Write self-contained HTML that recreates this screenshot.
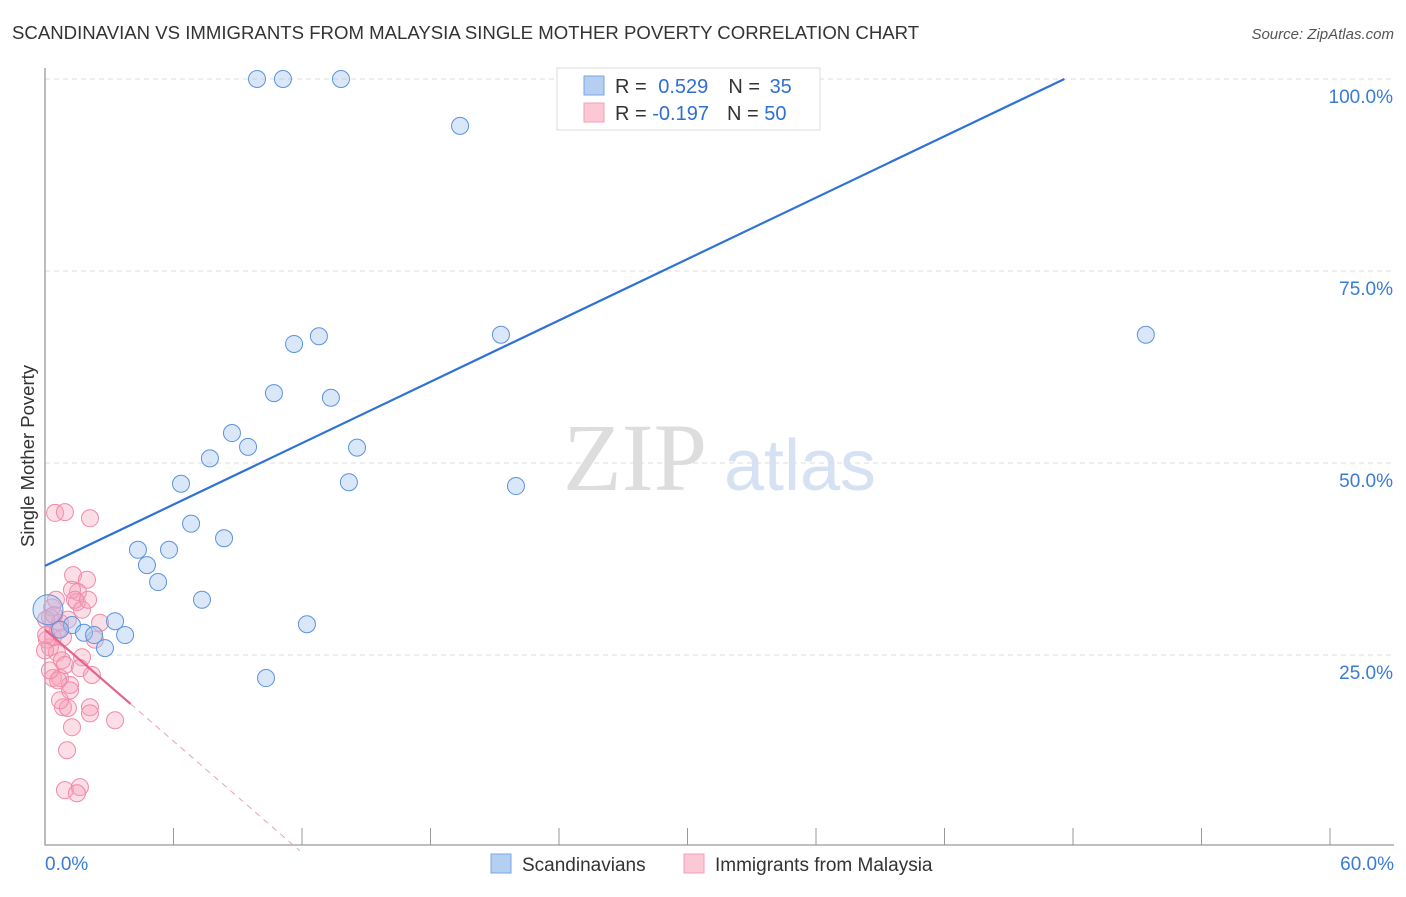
<!DOCTYPE html>
<html><head><meta charset="utf-8"><style>
body{margin:0;background:#fff;font-family:"Liberation Sans",sans-serif}
svg text{font-family:"Liberation Sans",sans-serif}
</style></head><body>
<svg width="1406" height="892" id="c">
<text x="12" y="39" font-size="18.6" fill="#333">SCANDINAVIAN VS IMMIGRANTS FROM MALAYSIA SINGLE MOTHER POVERTY CORRELATION CHART</text>
<text x="1394" y="39" font-size="15" fill="#555" font-style="italic" text-anchor="end">Source: ZipAtlas.com</text>
<text x="0" y="0" transform="translate(34,456) rotate(-90)" font-size="18.5" fill="#333" text-anchor="middle">Single Mother Poverty</text>
<g><text x="635" y="490" font-size="96" fill="#ddd" font-family="Liberation Serif" text-anchor="middle" style="font-family:'Liberation Serif',serif">ZIP</text><text x="800" y="490" font-size="72" fill="#d6e2f3" text-anchor="middle">atlas</text></g>
<g id="grid"></g><g id="marks"></g>
<g>
<rect x="557" y="68" width="263" height="62" fill="#fff" stroke="#ddd"/>
<rect x="584" y="76" width="20" height="19" fill="#b5cff3" stroke="#7aa6e3"/>
<rect x="584" y="103" width="20" height="19" fill="#fcc8d6" stroke="#f0a0b8"/>
<text x="615" y="93" font-size="20" fill="#333">R = <tspan fill="#2f6fd0" dx="6">0.529</tspan><tspan dx="20" fill="#333">N = </tspan><tspan fill="#2f6fd0" dx="4">35</tspan></text>
<text x="615" y="120" font-size="20" fill="#333">R = <tspan fill="#2f6fd0">-0.197</tspan><tspan dx="18" fill="#333">N = </tspan><tspan fill="#2f6fd0">50</tspan></text>
</g>
<g>
<rect x="491" y="854" width="20" height="19" fill="#b5cff3" stroke="#7aa6e3"/>
<text x="522" y="871" font-size="19" fill="#333">Scandinavians</text>
<rect x="684" y="854" width="20" height="19" fill="#fcc8d6" stroke="#f0a0b8"/>
<text x="715" y="871" font-size="19" fill="#333">Immigrants from Malaysia</text>
</g>
</svg>
<script>
const yTicks=[25,50,75,100];
const yTickLabels=["25.0%","50.0%","75.0%","100.0%"];
const xTicks=[0,6,12,18,24,30,36,42,48,54,60];
const xEndLabels=["0.0%","60.0%"];
const blueX=[9.90,11.11,13.82,25.82,19.38,11.63,12.79,21.29,51.40,10.69,13.35,8.73,9.48,14.57,7.70,6.35,14.19,21.99,6.82,8.36,4.34,5.79,4.76,5.28,7.33,12.23,3.27,1.26,1.82,2.29,3.74,2.80,10.32,0.14,0.70];
const blueY=[100,100,100,99.9,93.9,65.5,66.5,66.7,66.7,59.1,58.5,53.9,52.1,52.0,50.6,47.3,47.5,47.0,42.1,40.2,38.7,38.7,36.7,34.5,32.2,29.0,29.4,28.9,27.9,27.6,27.6,25.9,22.0,30.9,28.3];
const pinkX=[0.47,0.93,2.10,1.31,1.96,1.54,1.49,0.33,0.23,2.57,0.70,0.37,0.84,0.23,0.56,1.73,1.63,2.19,0.37,0.70,1.17,0.84,1.07,2.10,2.10,1.26,3.27,1.03,0.93,1.63,1.49,0.05,0.09,0.61,0.79,1.26,1.17,0.61,1.40,0.0,0.93,1.73,2.33,0.51,1.07,0.23,0.70,0.05,0.42,2.01];
const pinkY=[43.5,43.6,42.8,35.4,34.8,33.2,31.9,31.2,29.9,29.2,29.2,27.3,27.3,26.0,25.3,24.7,23.3,22.4,22.0,22.0,21.1,18.2,18.1,18.2,17.4,15.6,16.5,12.6,7.4,7.8,7.0,29.6,27.0,28.3,24.3,33.5,20.4,21.7,32.2,25.6,23.7,30.9,27.0,32.2,29.6,23.0,19.1,27.6,30.2,32.2];
const blueFit=[36.6,1.332], pinkFit=[28.3,-2.42];
const X=v=>45+v/60*1285, Y=v=>847-v/100*768;
const NS="http://www.w3.org/2000/svg";
function mk(p,t,a){const e=document.createElementNS(NS,t);for(const k in a)e.setAttribute(k,a[k]);p.appendChild(e);return e;}
const g=document.getElementById('grid'),m=document.getElementById('marks');
yTicks.forEach((v,i)=>{
 const l=mk(g,'line',{x1:45,x2:1394,y1:Y(v),y2:Y(v),stroke:'#ddd','stroke-dasharray':'5,4'});
 
 
 const t=mk(g,'text',{x:1393,y:Y(v)+24,'font-size':19,fill:'#3a7bd5','text-anchor':'end'});t.textContent=yTickLabels[i];
 
 
});
const ax=mk(g,'path',{d:'M45,68V845H1394',stroke:'#999',fill:'none','stroke-width':1.3});


xTicks.forEach(v=>{const t=mk(g,'line',{x1:X(v),x2:X(v),y1:828,y2:845,stroke:'#999'});
 
 });
[[0,45,'start'],[60,1394,'end']].forEach((d,i)=>{const t=mk(g,'text',{x:d[1],y:870,'font-size':19,fill:'#3a7bd5','text-anchor':d[2]});t.textContent=xEndLabels[i];
 
 });
pinkX.forEach((x,i)=>{const c=mk(m,'circle',{cx:X(x),cy:Y(pinkY[i]),r:8.5,fill:'rgba(247,160,185,0.35)',stroke:'#f08aa8','stroke-width':1});
 
 });
blueX.forEach((x,i)=>{const c=mk(m,'circle',{cx:X(x),cy:Y(blueY[i]),r:i==33?15:8.5,fill:'rgba(160,195,240,0.4)',stroke:'#5b93dd','stroke-width':1});
 
 });
const bx2=(100-blueFit[0])/blueFit[1];
const bl=mk(m,'line',{x1:X(0),y1:Y(blueFit[0]),x2:X(bx2),y2:Y(100),stroke:'#2f72d6','stroke-width':2.2});


const pl=mk(m,'line',{x1:X(0),y1:Y(pinkFit[0]),x2:X(4),y2:Y(pinkFit[0]+pinkFit[1]*4),stroke:'#e5638a','stroke-width':2.2});


const pd=mk(m,'line',{x1:X(4),y1:Y(pinkFit[0]+pinkFit[1]*4),x2:X(11.9),y2:Y(pinkFit[0]+pinkFit[1]*11.9),stroke:'#eea0b8','stroke-width':1,'stroke-dasharray':'6,5'});


</script>
</body></html>
